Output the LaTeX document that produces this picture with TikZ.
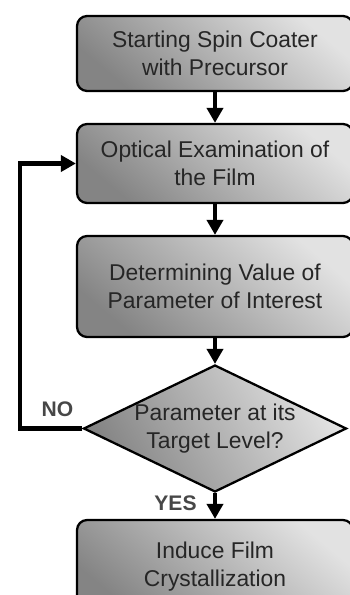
\documentclass[tikz,border=0pt]{standalone}
\usepackage{fontspec}
\setmainfont{Liberation Sans}
\usetikzlibrary{arrows.meta,shapes.geometric}
\definecolor{boxdark}{RGB}{132,132,132}
\definecolor{boxlight}{RGB}{226,226,226}
\definecolor{txtgray}{RGB}{38,38,38}
\begin{document}
\begin{tikzpicture}[x=0.02cm,y=-0.02cm,
  stepbox/.style={draw=black,line width=1.3pt,rounded corners=0.2cm,
    minimum width=5.52cm,inner sep=0pt,align=center,text=txtgray,
    top color=boxlight,bottom color=boxdark,shading angle=-40,
    font=\fontsize{13}{15.6}\selectfont},
  decision/.style={diamond,draw=black,line width=1.3pt,aspect=2.07,
    minimum width=5.26cm,minimum height=2.54cm,inner sep=0pt,align=center,
    text=txtgray,top color=boxlight,bottom color=boxdark,shading angle=-60,
    font=\fontsize{13}{15.6}\selectfont},
  flow/.style={line width=2.3pt,-{Triangle[length=0.3cm,width=0.32cm]}},
  answer/.style={font=\bfseries\fontsize{12}{14}\selectfont,text=black!72}]
  \clip (0,0) rectangle (350,595);

  % Process steps
  \node[stepbox,minimum height=1.5cm] (start) at (215,53.5) {Starting Spin Coater\\with Precursor};
  \node[stepbox,minimum height=1.58cm] (exam) at (215,163.5) {Optical Examination of\\the Film};
  \node[stepbox,minimum height=2.02cm] (value) at (215,286.5) {Determining Value of\\Parameter of Interest};
  \node[decision] (check) at (215,428.5) {Parameter at its\\Target Level?};
  \node[stepbox,minimum height=1.86cm] (cryst) at (215,566.5) {Induce Film\\Crystallization};

  % Connectors
  \draw[flow] (start) -- (exam);
  \draw[flow] (exam) -- (value);
  \draw[flow] (value) -- (check);
  \draw[flow] (check) -- (cryst) node[pos=0.4,left=6pt,answer] {YES};

  % Loop back
  \coordinate (back) at (20,428.5);
  \draw[flow] (check.west) -- (back) node[pos=0.4,above=2pt,answer] {NO} |- (exam.west);
\end{tikzpicture}
\end{document}
